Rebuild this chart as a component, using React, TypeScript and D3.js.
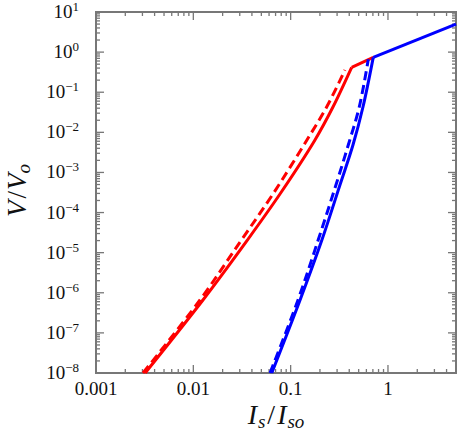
import React from "react";
import * as d3 from "d3";

// values (log-log)
const redSolidI = [0.0032, 0.01256, 0.0356, 0.0777, 0.1778, 0.272, 0.4236];
const redSolidV = [1e-8, 6.6e-7, 2.0e-5, 2.9e-4, 6.45e-3, 0.0428, 0.418];
const redDashI = [0.00304, 0.0117, 0.0309, 0.0658, 0.147, 0.2344, 0.3615];
const redDashV = [1e-8, 6.6e-7, 2.0e-5, 2.9e-4, 6.45e-3, 0.0428, 0.358];
const blueSolidI = [0.064, 0.125, 0.2085, 0.321, 0.4368, 0.5535, 0.706];
const blueSolidV = [1e-8, 6.6e-7, 2.0e-5, 4.86e-4, 4.83e-3, 0.0428, 0.74];
const blueDashI = [0.0614, 0.119, 0.191, 0.292, 0.391, 0.507, 0.628];
const blueDashV = [1e-8, 6.6e-7, 2.0e-5, 4.86e-4, 4.83e-3, 0.0428, 0.66];
// upper straight branch (V ~ I)
const redUpperI = [0.4236, 0.706];
const redUpperV = [0.418, 0.74];
const blueUpperI = [0.706, 5];
const blueUpperV = [0.74, 5.0];

const xMajor = [0.001, 0.01, 0.1, 1];
const xLabels = ["0.001", "0.01", "0.1", "1"];
const yExps = [-8, -7, -6, -5, -4, -3, -2, -1, 0, 1];

const W = 458, H = 434;
const m = { left: 96, right: 2, top: 12, bottom: 61 };
const FONT = "'Liberation Serif', 'Times New Roman', serif";
const AXIS = "#777";

export default function App() {
  const x = d3.scaleLog().domain([0.001, 5]).range([m.left, W - m.right]);
  const y = d3.scaleLog().domain([1e-8, 10]).range([H - m.bottom, m.top]);
  const x0 = m.left, x1 = W - m.right, y0 = H - m.bottom, y1 = m.top;

  const zip = (a: number[], b: number[]) => a.map((v, i) => [v, b[i]] as [number, number]);
  const curved = d3.line<[number, number]>().x(d => x(d[0])).y(d => y(d[1])).curve(d3.curveCatmullRom.alpha(0.5));
  const straight = d3.line<[number, number]>().x(d => x(d[0])).y(d => y(d[1]));

  // minor ticks
  const xMinor: number[] = [];
  for (const dec of [0.001, 0.01, 0.1, 1]) {
    for (let k = 2; k <= 9; k++) if (dec * k <= 5) xMinor.push(dec * k);
  }
  const yMinor: number[] = [];
  for (let e = -8; e <= 0; e++) {
    for (let k = 2; k <= 9; k++) yMinor.push(k * Math.pow(10, e));
  }

  const ticks: JSX.Element[] = [];
  xMajor.forEach((v, i) => {
    ticks.push(<line key={"xb" + i} x1={x(v)} x2={x(v)} y1={y0} y2={y0 - 8} />);
    ticks.push(<line key={"xt" + i} x1={x(v)} x2={x(v)} y1={y1} y2={y1 + 8} />);
  });
  xMinor.forEach((v, i) => {
    ticks.push(<line key={"xbm" + i} x1={x(v)} x2={x(v)} y1={y0} y2={y0 - 4} />);
    ticks.push(<line key={"xtm" + i} x1={x(v)} x2={x(v)} y1={y1} y2={y1 + 4} />);
  });
  yExps.forEach((e, i) => {
    const v = Math.pow(10, e);
    ticks.push(<line key={"yl" + i} x1={x0} x2={x0 + 8} y1={y(v)} y2={y(v)} />);
    ticks.push(<line key={"yr" + i} x1={x1} x2={x1 - 8} y1={y(v)} y2={y(v)} />);
  });
  yMinor.forEach((v, i) => {
    ticks.push(<line key={"ylm" + i} x1={x0} x2={x0 + 4} y1={y(v)} y2={y(v)} />);
    ticks.push(<line key={"yrm" + i} x1={x1} x2={x1 - 4} y1={y(v)} y2={y(v)} />);
  });

  return (
    <svg width={W} height={H} style={{ position: "absolute", left: 0, top: 0, fontFamily: FONT }}>
      <rect width={W} height={H} fill="#fff" />
      <g stroke={AXIS} strokeWidth={1.3}>{ticks}</g>
      <rect x={x0} y={y1} width={x1 - x0} height={y0 - y1} fill="none" stroke={AXIS} strokeWidth={2} />

      <g fill="none" strokeWidth={3}>
        <path d={curved(zip(redSolidI, redSolidV)) || ""} stroke="#ff0000" />
        <path d={straight(zip(redUpperI, redUpperV)) || ""} stroke="#ff0000" />
        <path d={curved(zip(redDashI, redDashV)) || ""} stroke="#ff0000" strokeDasharray="9,5" />
        <path d={curved(zip(blueDashI, blueDashV)) || ""} stroke="#0000ff" strokeDasharray="9,5" />
        <path d={curved(zip(blueSolidI, blueSolidV)) || ""} stroke="#0000ff" />
        <path d={straight(zip(blueUpperI, blueUpperV)) || ""} stroke="#0000ff" />
      </g>

      <g fontSize={19} fill="#111" textAnchor="middle">
        {xMajor.map((v, i) => (
          <text key={i} x={x(v)} y={y0 + 22}>{xLabels[i]}</text>
        ))}
      </g>
      <g fontSize={19} fill="#111" textAnchor="end">
        {yExps.map((e, i) => (
          <text key={i} x={x0 - 17} y={y(Math.pow(10, e)) + 6}>
            10
            <tspan dy={-7} fontSize={13}>{e < 0 ? "\u2212" + Math.abs(e) : String(e)}</tspan>
          </text>
        ))}
      </g>

      <text x={(x0 + x1) / 2} y={424} textAnchor="middle" fontSize={28} fill="#111">
        <tspan fontStyle="italic">I</tspan>
        <tspan fontStyle="italic" fontSize={19} dy={4} dx={1}>s</tspan>
        <tspan dy={-4} dx={2}>/</tspan>
        <tspan fontStyle="italic" dx={2}>I</tspan>
        <tspan fontStyle="italic" fontSize={19} dy={4} dx={1}>so</tspan>
      </text>
      <text transform={`translate(26,${(y0 + y1) / 2 - 2}) rotate(-90)`} textAnchor="middle" fontSize={27} fill="#111">
        <tspan fontStyle="italic">V</tspan>
        <tspan dx={2}>/</tspan>
        <tspan fontStyle="italic" dx={1}>V</tspan>
        <tspan fontStyle="italic" fontSize={19} dy={4}>o</tspan>
      </text>
    </svg>
  );
}
